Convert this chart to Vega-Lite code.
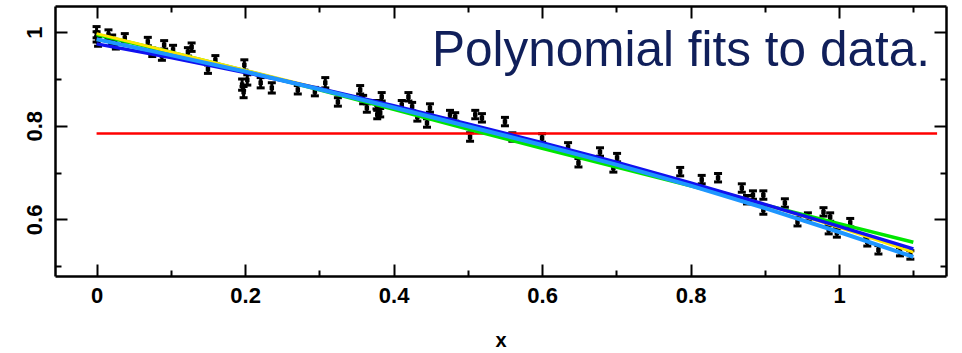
{
  "$schema": "https://vega.github.io/schema/vega-lite/v6.json",
  "width": 891,
  "height": 270,
  "autosize": "none",
  "padding": {"left": 55, "top": 6, "right": 16, "bottom": 77},
  "background": "white",
  "config": {
    "view": {"stroke": null},
    "axis": {
      "grid": false,
      "domainColor": "black",
      "domainWidth": 2.5,
      "tickColor": "black",
      "tickWidth": 2,
      "labelColor": "black",
      "labelFont": "Liberation Sans",
      "labelFontWeight": "bold",
      "labelFontSize": 22,
      "titleFont": "Liberation Sans",
      "titleFontWeight": "bold",
      "titleFontSize": 20,
      "titleColor": "black",
      "labelOverlap": false,
      "labelFlush": false
    }
  },
  "title": {
    "text": "Polynomial fits to data.",
    "anchor": "end",
    "frame": "group",
    "orient": "top",
    "offset": 0,
    "dy": 110,
    "dx": -16,
    "baseline": "alphabetic",
    "font": "Liberation Sans",
    "fontSize": 49.5,
    "fontWeight": "normal",
    "color": "#101f5a"
  },
  "datasets": {
    "pts": [
      {"x": 0.0, "y": 1.0, "lo": 0.988, "hi": 1.012},
      {"x": 0.0, "y": 0.99, "lo": 0.979, "hi": 1.001},
      {"x": 0.002, "y": 0.98, "lo": 0.97, "hi": 0.99},
      {"x": 0.016, "y": 0.995, "lo": 0.985, "hi": 1.005},
      {"x": 0.021, "y": 0.984, "lo": 0.974, "hi": 0.994},
      {"x": 0.026, "y": 0.974, "lo": 0.964, "hi": 0.984},
      {"x": 0.038, "y": 0.988, "lo": 0.979, "hi": 0.997},
      {"x": 0.069, "y": 0.98, "lo": 0.971, "hi": 0.989},
      {"x": 0.075, "y": 0.957, "lo": 0.948, "hi": 0.966},
      {"x": 0.088, "y": 0.949, "lo": 0.94, "hi": 0.958},
      {"x": 0.091, "y": 0.973, "lo": 0.964, "hi": 0.982},
      {"x": 0.103, "y": 0.963, "lo": 0.954, "hi": 0.972},
      {"x": 0.123, "y": 0.958, "lo": 0.949, "hi": 0.967},
      {"x": 0.128, "y": 0.968, "lo": 0.959, "hi": 0.977},
      {"x": 0.15, "y": 0.921, "lo": 0.912, "hi": 0.93},
      {"x": 0.16, "y": 0.941, "lo": 0.932, "hi": 0.95},
      {"x": 0.199, "y": 0.93, "lo": 0.919, "hi": 0.941},
      {"x": 0.196, "y": 0.888, "lo": 0.876, "hi": 0.9},
      {"x": 0.198, "y": 0.872, "lo": 0.86, "hi": 0.884},
      {"x": 0.203, "y": 0.898, "lo": 0.887, "hi": 0.909},
      {"x": 0.221, "y": 0.892, "lo": 0.881, "hi": 0.903},
      {"x": 0.236, "y": 0.881, "lo": 0.87, "hi": 0.892},
      {"x": 0.271, "y": 0.877, "lo": 0.868, "hi": 0.886},
      {"x": 0.294, "y": 0.873, "lo": 0.864, "hi": 0.882},
      {"x": 0.308, "y": 0.892, "lo": 0.881, "hi": 0.903},
      {"x": 0.325, "y": 0.851, "lo": 0.842, "hi": 0.86},
      {"x": 0.355, "y": 0.877, "lo": 0.868, "hi": 0.886},
      {"x": 0.359, "y": 0.856, "lo": 0.847, "hi": 0.865},
      {"x": 0.364, "y": 0.838, "lo": 0.829, "hi": 0.847},
      {"x": 0.377, "y": 0.845, "lo": 0.836, "hi": 0.854},
      {"x": 0.378, "y": 0.824, "lo": 0.815, "hi": 0.833},
      {"x": 0.384, "y": 0.862, "lo": 0.853, "hi": 0.871},
      {"x": 0.382, "y": 0.828, "lo": 0.819, "hi": 0.837},
      {"x": 0.411, "y": 0.845, "lo": 0.836, "hi": 0.854},
      {"x": 0.42, "y": 0.862, "lo": 0.853, "hi": 0.871},
      {"x": 0.425, "y": 0.841, "lo": 0.832, "hi": 0.85},
      {"x": 0.432, "y": 0.819, "lo": 0.81, "hi": 0.828},
      {"x": 0.445, "y": 0.806, "lo": 0.797, "hi": 0.815},
      {"x": 0.449, "y": 0.838, "lo": 0.829, "hi": 0.847},
      {"x": 0.476, "y": 0.824, "lo": 0.815, "hi": 0.833},
      {"x": 0.483, "y": 0.819, "lo": 0.81, "hi": 0.828},
      {"x": 0.503, "y": 0.776, "lo": 0.767, "hi": 0.785},
      {"x": 0.51, "y": 0.824, "lo": 0.815, "hi": 0.833},
      {"x": 0.519, "y": 0.817, "lo": 0.808, "hi": 0.826},
      {"x": 0.55, "y": 0.809, "lo": 0.8, "hi": 0.818},
      {"x": 0.56, "y": 0.776, "lo": 0.767, "hi": 0.785},
      {"x": 0.6, "y": 0.774, "lo": 0.765, "hi": 0.783},
      {"x": 0.635, "y": 0.755, "lo": 0.746, "hi": 0.764},
      {"x": 0.649, "y": 0.721, "lo": 0.712, "hi": 0.73},
      {"x": 0.678, "y": 0.744, "lo": 0.735, "hi": 0.753},
      {"x": 0.696, "y": 0.71, "lo": 0.701, "hi": 0.719},
      {"x": 0.701, "y": 0.732, "lo": 0.723, "hi": 0.741},
      {"x": 0.786, "y": 0.702, "lo": 0.693, "hi": 0.711},
      {"x": 0.815, "y": 0.685, "lo": 0.676, "hi": 0.694},
      {"x": 0.837, "y": 0.689, "lo": 0.68, "hi": 0.698},
      {"x": 0.869, "y": 0.667, "lo": 0.658, "hi": 0.676},
      {"x": 0.876, "y": 0.642, "lo": 0.633, "hi": 0.651},
      {"x": 0.884, "y": 0.652, "lo": 0.643, "hi": 0.661},
      {"x": 0.898, "y": 0.652, "lo": 0.643, "hi": 0.661},
      {"x": 0.898, "y": 0.62, "lo": 0.611, "hi": 0.629},
      {"x": 0.927, "y": 0.635, "lo": 0.626, "hi": 0.644},
      {"x": 0.944, "y": 0.595, "lo": 0.586, "hi": 0.604},
      {"x": 0.958, "y": 0.605, "lo": 0.596, "hi": 0.614},
      {"x": 0.979, "y": 0.616, "lo": 0.607, "hi": 0.625},
      {"x": 0.986, "y": 0.578, "lo": 0.569, "hi": 0.587},
      {"x": 0.988, "y": 0.605, "lo": 0.596, "hi": 0.614},
      {"x": 0.997, "y": 0.571, "lo": 0.562, "hi": 0.58},
      {"x": 1.015, "y": 0.593, "lo": 0.584, "hi": 0.602},
      {"x": 1.038, "y": 0.552, "lo": 0.543, "hi": 0.561},
      {"x": 1.053, "y": 0.535, "lo": 0.526, "hi": 0.544},
      {"x": 1.082, "y": 0.531, "lo": 0.522, "hi": 0.54},
      {"x": 1.096, "y": 0.524, "lo": 0.515, "hi": 0.533}
    ],
    "fits": [
      {"s": "deg0", "x": 0.0, "y": 0.7835},
      {"s": "deg0", "x": 1.132, "y": 0.7835},
      {"s": "deg1", "x": 0.0, "y": 0.995},
      {"s": "deg1", "x": 0.1, "y": 0.957},
      {"s": "deg1", "x": 0.2, "y": 0.918},
      {"s": "deg1", "x": 0.3, "y": 0.877},
      {"s": "deg1", "x": 0.4, "y": 0.835},
      {"s": "deg1", "x": 0.5, "y": 0.793},
      {"s": "deg1", "x": 0.6, "y": 0.752},
      {"s": "deg1", "x": 0.7, "y": 0.712},
      {"s": "deg1", "x": 0.8, "y": 0.672},
      {"s": "deg1", "x": 0.9, "y": 0.631},
      {"s": "deg1", "x": 1.0, "y": 0.591},
      {"s": "deg1", "x": 1.1, "y": 0.551},
      {"s": "deg4", "x": 0.0, "y": 0.997},
      {"s": "deg4", "x": 0.1, "y": 0.958},
      {"s": "deg4", "x": 0.2, "y": 0.919},
      {"s": "deg4", "x": 0.3, "y": 0.88},
      {"s": "deg4", "x": 0.4, "y": 0.841},
      {"s": "deg4", "x": 0.5, "y": 0.801},
      {"s": "deg4", "x": 0.6, "y": 0.762},
      {"s": "deg4", "x": 0.7, "y": 0.72},
      {"s": "deg4", "x": 0.8, "y": 0.677},
      {"s": "deg4", "x": 0.9, "y": 0.632},
      {"s": "deg4", "x": 1.0, "y": 0.583},
      {"s": "deg4", "x": 1.1, "y": 0.53},
      {"s": "deg2", "x": 0.0, "y": 0.975},
      {"s": "deg2", "x": 0.1, "y": 0.946},
      {"s": "deg2", "x": 0.2, "y": 0.914},
      {"s": "deg2", "x": 0.3, "y": 0.88},
      {"s": "deg2", "x": 0.4, "y": 0.843},
      {"s": "deg2", "x": 0.5, "y": 0.804},
      {"s": "deg2", "x": 0.6, "y": 0.764},
      {"s": "deg2", "x": 0.7, "y": 0.722},
      {"s": "deg2", "x": 0.8, "y": 0.678},
      {"s": "deg2", "x": 0.9, "y": 0.632},
      {"s": "deg2", "x": 1.0, "y": 0.585},
      {"s": "deg2", "x": 1.1, "y": 0.537},
      {"s": "deg3", "x": 0.0, "y": 0.985},
      {"s": "deg3", "x": 0.1, "y": 0.951},
      {"s": "deg3", "x": 0.2, "y": 0.916},
      {"s": "deg3", "x": 0.3, "y": 0.878},
      {"s": "deg3", "x": 0.4, "y": 0.839},
      {"s": "deg3", "x": 0.5, "y": 0.799},
      {"s": "deg3", "x": 0.6, "y": 0.759},
      {"s": "deg3", "x": 0.7, "y": 0.717},
      {"s": "deg3", "x": 0.8, "y": 0.672},
      {"s": "deg3", "x": 0.9, "y": 0.624},
      {"s": "deg3", "x": 1.0, "y": 0.573},
      {"s": "deg3", "x": 1.1, "y": 0.52}
    ]
  },
  "resolve": {"axis": {"x": "independent", "y": "independent"}},
  "layer": [
    {
      "data": {"name": "pts"},
      "mark": {"type": "rule", "color": "black", "strokeWidth": 3},
      "encoding": {
        "x": {"field": "x", "type": "quantitative", "scale": {"domain": [-0.056, 1.144], "nice": false, "zero": false}, "axis": null},
        "y": {"field": "lo", "type": "quantitative", "scale": {"domain": [0.479, 1.056], "nice": false, "zero": false}, "axis": null},
        "y2": {"field": "hi"}
      }
    },
    {
      "data": {"name": "pts"},
      "mark": {"type": "tick", "orient": "horizontal", "color": "black", "size": 8, "thickness": 3, "opacity": 1},
      "encoding": {
        "x": {"field": "x", "type": "quantitative", "axis": null},
        "y": {"field": "lo", "type": "quantitative", "axis": null}
      }
    },
    {
      "data": {"name": "pts"},
      "mark": {"type": "tick", "orient": "horizontal", "color": "black", "size": 8, "thickness": 3, "opacity": 1},
      "encoding": {
        "x": {"field": "x", "type": "quantitative", "axis": null},
        "y": {"field": "hi", "type": "quantitative", "axis": null}
      }
    },
    {
      "data": {"name": "pts"},
      "mark": {"type": "point", "shape": "square", "filled": true, "color": "black", "size": 20, "opacity": 1},
      "encoding": {
        "x": {"field": "x", "type": "quantitative", "axis": null},
        "y": {"field": "y", "type": "quantitative", "axis": null}
      }
    },
    {
      "data": {"name": "fits"},
      "transform": [{"filter": "datum.s == 'deg0'"}],
      "mark": {"type": "line", "color": "#ff0000", "strokeWidth": 2.5},
      "encoding": {
        "x": {
          "field": "x", "type": "quantitative",
          "axis": {
            "orient": "bottom",
            "values": [0, 0.1, 0.2, 0.3, 0.4, 0.5, 0.6, 0.7, 0.8, 0.9, 1, 1.1],
            "format": "~g",
            "labelExpr": "round(datum.value*10) % 2 == 0 ? datum.label : ''",
            "tickSize": {"condition": {"test": "round(datum.value*10) % 2 == 0", "value": -12}, "value": -6},
            "labelPadding": 21,
            "title": "x",
            "titlePadding": 18
          }
        },
        "y": {
          "field": "y", "type": "quantitative",
          "axis": {
            "orient": "left",
            "values": [0.5, 0.6, 0.7, 0.8, 0.9, 1],
            "format": "~g",
            "labelExpr": "round(datum.value*10) % 2 == 0 ? datum.label : ''",
            "tickSize": {"condition": {"test": "round(datum.value*10) % 2 == 0", "value": -12}, "value": -6},
            "labelAngle": -90,
            "labelPadding": 21,
            "title": null
          }
        }
      }
    },
    {
      "data": {"name": "fits"},
      "transform": [{"filter": "datum.s == 'deg1'"}],
      "mark": {"type": "line", "color": "#00e600", "strokeWidth": 3.5},
      "encoding": {
        "x": {
          "field": "x", "type": "quantitative",
          "axis": {
            "orient": "top",
            "values": [0, 0.1, 0.2, 0.3, 0.4, 0.5, 0.6, 0.7, 0.8, 0.9, 1, 1.1],
            "labels": false,
            "tickSize": {"condition": {"test": "round(datum.value*10) % 2 == 0", "value": -12}, "value": -6},
            "title": null
          }
        },
        "y": {
          "field": "y", "type": "quantitative",
          "axis": {
            "orient": "right",
            "values": [0.5, 0.6, 0.7, 0.8, 0.9, 1],
            "labels": false,
            "tickSize": {"condition": {"test": "round(datum.value*10) % 2 == 0", "value": -12}, "value": -6},
            "title": null
          }
        }
      }
    },
    {
      "data": {"name": "fits"},
      "transform": [{"filter": "datum.s == 'deg4'"}],
      "mark": {"type": "line", "color": "#ffe600", "strokeWidth": 3},
      "encoding": {
        "x": {"field": "x", "type": "quantitative", "axis": null},
        "y": {"field": "y", "type": "quantitative", "axis": null}
      }
    },
    {
      "data": {"name": "fits"},
      "transform": [{"filter": "datum.s == 'deg2'"}],
      "mark": {"type": "line", "color": "#1010f0", "strokeWidth": 3.5},
      "encoding": {
        "x": {"field": "x", "type": "quantitative", "axis": null},
        "y": {"field": "y", "type": "quantitative", "axis": null}
      }
    },
    {
      "data": {"name": "fits"},
      "transform": [{"filter": "datum.s == 'deg3'"}],
      "mark": {"type": "line", "color": "#1e96ff", "strokeWidth": 4},
      "encoding": {
        "x": {"field": "x", "type": "quantitative", "axis": null},
        "y": {"field": "y", "type": "quantitative", "axis": null}
      }
    }
  ]
}
